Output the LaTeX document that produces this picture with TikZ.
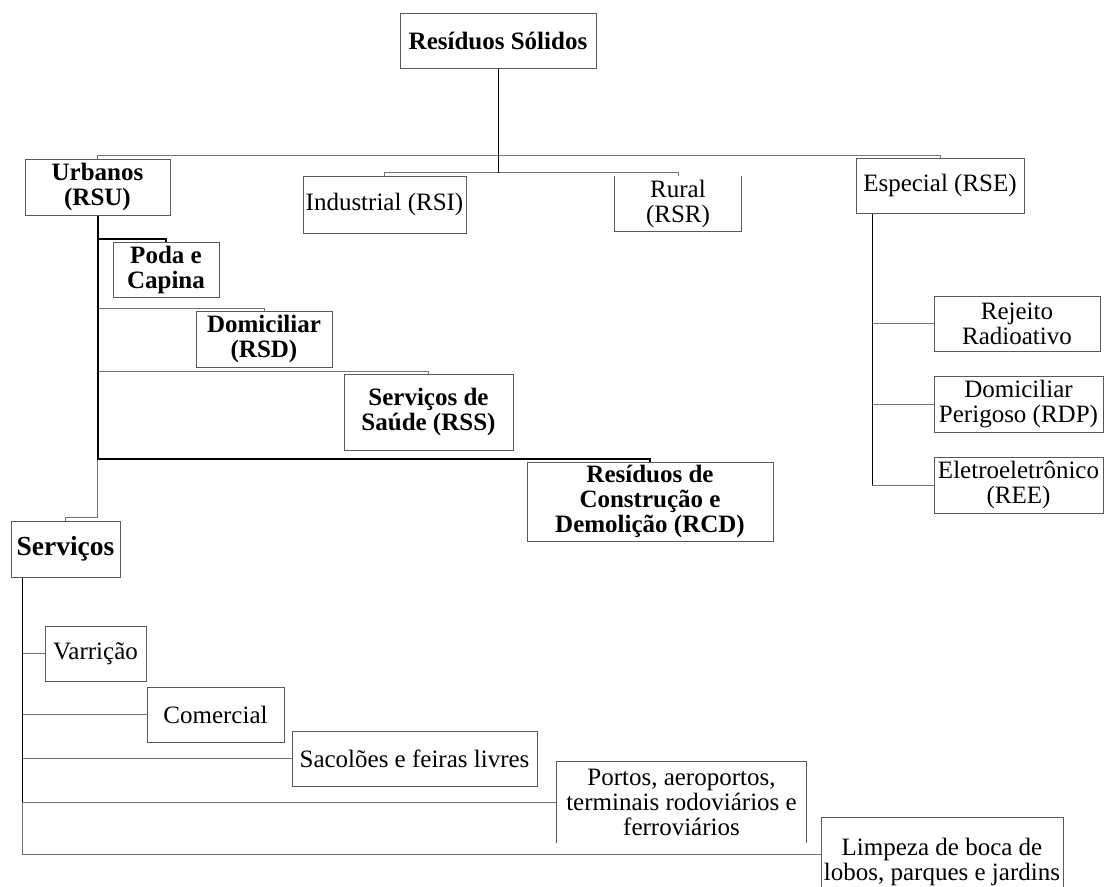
\documentclass[tikz,border=0pt]{standalone}
\usepackage{fontspec}
\setmainfont{Liberation Serif}
\definecolor{bcol}{gray}{0.35}
\definecolor{lcol}{gray}{0.45}
\tikzset{
  box/.style={draw=bcol, line width=1pt, inner sep=0pt, align=center,
              font=\fontsize{25}{25}\selectfont},
  bbox/.style={box, font=\fontsize{25}{25}\selectfont\bfseries},
  gline/.style={draw=lcol, line width=1pt},
  kline/.style={draw=black, line width=1pt},
  tline/.style={draw=black, line width=2pt},
}
\begin{document}
\begin{tikzpicture}[x=1pt,y=-1pt]
\useasboundingbox (0,0) rectangle (1105,886);
% level 0
\node[bbox, minimum width=196pt, minimum height=55pt] (rs) at (498,40.5) {Resíduos Sólidos};
% level 1
\node[bbox, minimum width=145pt, minimum height=56pt] (urb) at (97.5,187) {Urbanos\\(RSU)};
\node[box, minimum width=163pt, minimum height=57pt] (ind) at (384.5,204.5) {Industrial (RSI)};
\node[box, draw=none, minimum width=126pt, minimum height=55pt] (rur) at (678,203.5) {Rural\\(RSR)};
\draw[bcol, line width=1pt] (rur.north west) -- (rur.south west) -- (rur.south east) -- (rur.north east);
\node[box, minimum width=168pt, minimum height=55pt] (esp) at (940,185.5) {Especial (RSE)};
% urbanos children
\node[bbox, minimum width=106pt, minimum height=55pt] (poda) at (166,269.5) {Poda e\\Capina};
\node[bbox, minimum width=136pt, minimum height=56pt] (rsd) at (264,339) {Domiciliar\\(RSD)};
\node[bbox, minimum width=169pt, minimum height=76pt] (rss) at (428.5,412) {Serviços de\\Saúde (RSS)};
\node[bbox, minimum width=246pt, minimum height=79pt] (rcd) at (650,501.5) {Resíduos de\\Construção e\\Demolição (RCD)};
\node[bbox, minimum width=109pt, minimum height=56pt, font=\fontsize{27.5}{27.5}\selectfont\bfseries] (serv) at (65.5,549) {Serviços};
% especial children
\node[box, minimum width=166pt, minimum height=55pt] (rej) at (1017,323.5) {Rejeito\\Radioativo};
\node[box, minimum width=169pt, minimum height=56pt] (rdp) at (1018.5,404) {Domiciliar\\Perigoso (RDP)};
\node[box, minimum width=169pt, minimum height=56pt] (ree) at (1018.5,485) {Eletroeletrônico\\(REE)};
% servicos children
\node[box, minimum width=101pt, minimum height=55pt] (var) at (95.5,653.5) {Varrição};
\node[box, minimum width=137pt, minimum height=55pt] (com) at (215.5,714.5) {Comercial};
\node[box, minimum width=245pt, minimum height=55pt] (sac) at (414.5,758.5) {Sacolões e feiras livres};
\node[box, draw=none, minimum width=249pt, minimum height=81pt] (por) at (681.5,802) {Portos, aeroportos,\\terminais rodoviários e\\ferroviários};
\draw[bcol, line width=1pt] (por.south west) -- (por.north west) -- (por.north east) -- (por.south east);
\node[box, minimum width=242pt, minimum height=90pt] (limp) at (942,862) {Limpeza de boca de\\lobos, parques e jardins};

% top level connectors
\coordinate (rsj) at (498,173);
\draw[gline] (urb.north) -- ++(0,-3) -| (esp.north);
\draw[gline] (ind.north) -- ++(0,-3) -| (rur.north);
\draw[kline] (rs.south) -- (rsj);

% urbanos connectors
\coordinate (ut) at (97.5,459);
\draw[gline] (rsd.north) -- ++(0,-2.5) -| (urb.south);
\draw[gline] (rss.north) -- ++(0,-2.5) -| (urb.south);
\draw[gline] (serv.north) -- ++(0,-3) -| (ut);
\draw[tline] (poda.north) -- ++(0,-3) -| (urb.south);
\draw[tline] (urb.south) -- (ut) -| (rcd.north);

% especial connectors
\coordinate (et) at (872,485);
\draw[gline] (rej.west) -- (rej.west -| et);
\draw[gline] (rdp.west) -- (rdp.west -| et);
\draw[gline] (ree.west) -- (et);
\draw[kline] (esp.south -| et) -- (et);

% servicos connectors
\coordinate (st) at (22,854);
\draw[gline] (serv.south -| st) -- (st) -- ([yshift=8pt]limp.west);
\draw[gline] (var.west) -- (var.west -| st);
\draw[gline] (com.west) -- (com.west -| st);
\draw[gline] (sac.west) -- (sac.west -| st);
\draw[gline] (por.west) -- (por.west -| st);
\draw[kline] (serv.south -| st) -- (por.west -| st);
\end{tikzpicture}
\end{document}
